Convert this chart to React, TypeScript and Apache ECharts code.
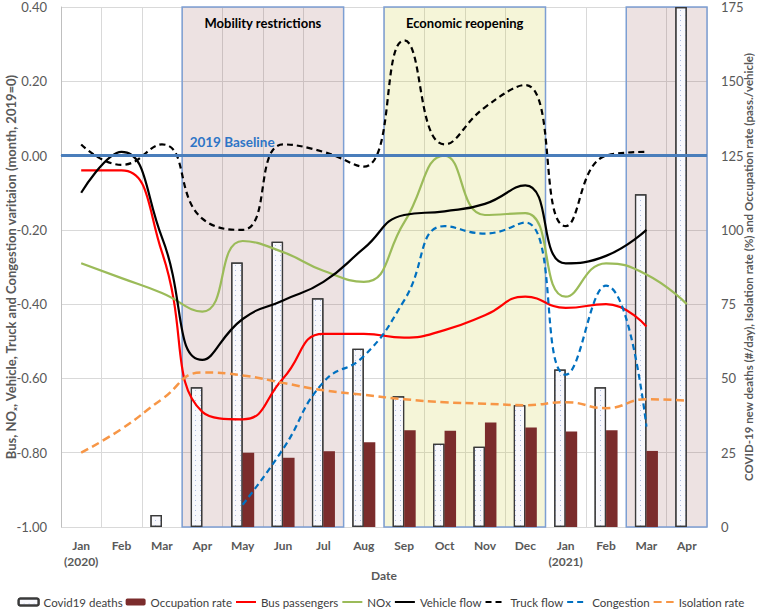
import React, { useEffect, useRef } from "react";
import * as echarts from "echarts";

const months = ["Jan\n(2020)", "Feb", "Mar", "Apr", "May", "Jun", "Jul", "Aug", "Sep", "Oct", "Nov", "Dec", "Jan\n(2021)", "Feb", "Mar", "Apr"];
const covidDeaths = [null, null, 4, 47, 89, 96, 77, 60, 44, 28, 27, 41, 53, 47, 112, 175];
const occupationRate = [null, null, null, null, 25, 23.3, 25.5, 28.5, 32.6, 32.4, 35.2, 33.5, 32.1, 32.6, 25.6, null];
const busPassengers = [-0.04, -0.04, -0.26, -0.69, -0.71, -0.60, -0.48, -0.48, -0.49, -0.47, -0.43, -0.38, -0.41, -0.40, -0.46, null];
const nox = [-0.29, -0.33, -0.37, -0.42, -0.23, -0.26, -0.31, -0.34, -0.18, 0.0, -0.16, -0.155, -0.38, -0.29, -0.32, -0.40];
const vehicleFlow = [-0.10, 0.01, -0.22, -0.55, -0.44, -0.39, -0.34, -0.25, -0.16, -0.15, -0.13, -0.08, -0.29, -0.27, -0.20, null];
const truckFlow = [0.03, -0.025, 0.03, -0.17, -0.20, 0.03, 0.01, -0.03, 0.31, 0.03, 0.13, 0.19, -0.19, 0.0, 0.01, null];
const congestion = [null, null, null, null, -0.94, -0.79, -0.61, -0.54, -0.39, -0.19, -0.21, -0.18, -0.59, -0.35, -0.73, null];
const isolationRate = [25, 33, 43, 52, 51, 48.5, 46, 44.5, 43, 42, 41.5, 41, 42, 40, 43, 42.5];
const periods = [
  { name: "Mobility restrictions", from: 3, to: 7, kind: "pink" },
  { name: "Economic reopening", from: 8, to: 12, kind: "yellow" },
  { name: "", from: 14, to: 16, kind: "pink" },
];
const baselineLabel = "2019 Baseline";
const lineNames = ["Bus passengers", "NOx", "Vehicle flow", "Truck flow", "Congestion", "Isolation rate"];

const FONT = "Lato, 'Open Sans', sans-serif";

export default function App() {
  const ref = useRef<HTMLDivElement>(null);
  useEffect(() => {
    document.body.style.margin = "0";
    const chart = echarts.init(ref.current!, null, { renderer: "svg" });
    const lineSeries = (name: string, data: any[], color: string, dash: number[] | null, yIdx = 0, width = 2.2) => ({
      name,
      type: "line",
      data,
      yAxisIndex: yIdx,
      smooth: 0.5,
      symbol: "none",
      z: 4,
      lineStyle: { color, width, type: dash ? dash : "solid" },
      itemStyle: { color },
    });
    chart.setOption({
      animation: false,
      textStyle: { fontFamily: FONT },
      grid: { left: 61, right: 55, top: 7, bottom: 84, outerBoundsMode: "none" },
      legend: {
        bottom: 3,
        left: "center",
        padding: 0,
        itemWidth: 20,
        itemHeight: 7,
        itemGap: 3,
        textStyle: { fontSize: 11.5, color: "#404040", fontFamily: FONT },
        data: [
          "Covid19 deaths",
          "Occupation rate",
          ...lineNames.map((n) => ({ name: n, itemStyle: { opacity: 0 } })),
        ],
      },
      xAxis: [
        {
          type: "category",
          data: months,
          name: "Date",
          nameLocation: "middle",
          nameGap: 42,
          nameMoveOverlap: false,
          nameTextStyle: { fontWeight: "bold", fontSize: 12, color: "#595959", fontFamily: FONT },
          axisLine: { lineStyle: { color: "#bfbfbf" } },
          axisTick: { show: false },
          axisLabel: { fontWeight: "bold", fontSize: 12, color: "#595959", margin: 10, lineHeight: 16, interval: 0, fontFamily: FONT },
          splitLine: { show: true, lineStyle: { color: "#d9d9d9" } },
        },
        { type: "value", min: 0, max: 16, show: false },
      ],
      yAxis: [
        {
          type: "value",
          min: -1,
          max: 0.4,
          interval: 0.2,
          name: "Bus, NOₓ, Vehicle, Truck and Congestion varitaion (month, 2019=0)",
          nameLocation: "middle",
          nameGap: 44,
          nameMoveOverlap: false,
          nameTextStyle: { fontWeight: "bold", fontSize: 13, color: "#595959", fontFamily: FONT },
          axisLine: { show: true, lineStyle: { color: "#bfbfbf" } },
          axisTick: { show: false },
          axisLabel: { fontSize: 13, color: "#595959", margin: 14, formatter: (v: number) => v.toFixed(2), fontFamily: FONT },
          splitLine: { show: true, lineStyle: { color: "#d9d9d9" } },
        },
        {
          type: "value",
          min: 0,
          max: 175,
          interval: 25,
          position: "right",
          name: "COVID-19 new deaths (#/day), Isolation rate (%) and Occupation rate (pass./vehicle)",
          nameLocation: "middle",
          nameGap: 35,
          nameMoveOverlap: false,
          nameTextStyle: { fontWeight: "bold", fontSize: 11.5, color: "#595959", fontFamily: FONT },
          axisLine: { show: false },
          axisTick: { show: false },
          axisLabel: { fontSize: 13, color: "#595959", margin: 14, fontFamily: FONT },
          splitLine: { show: false },
        },
      ],
      series: [
        {
          name: "Covid19 deaths",
          type: "bar",
          data: covidDeaths,
          yAxisIndex: 1,
          barWidth: 11.5,
          barGap: "0%",
          z: 2,
          itemStyle: {
            color: "#f8f8fc",
            borderColor: "#3a3a3a",
            borderWidth: 1.2,
            decal: { symbol: "rect", symbolSize: 1, color: "rgba(110,140,210,0.55)", dashArrayX: [1, 4], dashArrayY: [1, 4], rotation: 0 },
          },
        },
        {
          name: "Occupation rate",
          type: "bar",
          data: occupationRate,
          yAxisIndex: 1,
          barWidth: 11.5,
          barGap: "0%",
          z: 2,
          itemStyle: { color: "#7b2c2c" },
        },
        {
          name: "periods",
          type: "line",
          xAxisIndex: 1,
          yAxisIndex: 0,
          data: [],
          z: 3,
          silent: true,
          markArea: {
            silent: true,
            data: periods.map((p) => [
              {
                xAxis: p.from,
                name: p.name,
                itemStyle: {
                  color: p.kind === "pink" ? "rgba(128,50,50,0.14)" : "rgba(205,205,60,0.2)",
                  borderColor: "#7d9fd3",
                  borderWidth: 1.5,
                },
                label: { show: p.name !== "", position: "insideTop", distance: 10, fontWeight: "bold", fontSize: 13, color: "#000", fontFamily: FONT },
              },
              { xAxis: p.to },
            ]),
          },
          markLine: {
            silent: true,
            symbol: "none",
            label: { show: false },
            lineStyle: { color: "#4a7ebb", width: 3, type: "solid" },
            data: [{ yAxis: 0 }],
          },
          markPoint: {
            silent: true,
            symbol: "circle",
            symbolSize: 1,
            itemStyle: { color: "rgba(0,0,0,0)" },
            data: [
              {
                coord: [periods[0].from, 0],
                label: {
                  show: true,
                  formatter: baselineLabel,
                  position: "right",
                  distance: 7,
                  offset: [0, -14],
                  fontWeight: "bold",
                  fontSize: 13.5,
                  color: "#2e75c6",
                  fontFamily: FONT,
                },
              },
            ],
          },
        },
        lineSeries("Bus passengers", busPassengers, "#ff0000", null),
        lineSeries("NOx", nox, "#9bbb59", null),
        lineSeries("Vehicle flow", vehicleFlow, "#000000", null),
        lineSeries("Truck flow", truckFlow, "#000000", [6, 4]),
        lineSeries("Congestion", congestion, "#0070c0", [6, 4]),
        lineSeries("Isolation rate", isolationRate, "#f79646", [8, 4.5], 1, 2.5),
      ],
    });
    return () => chart.dispose();
  }, []);
  return <div ref={ref} style={{ width: 762, height: 611 }} />;
}
